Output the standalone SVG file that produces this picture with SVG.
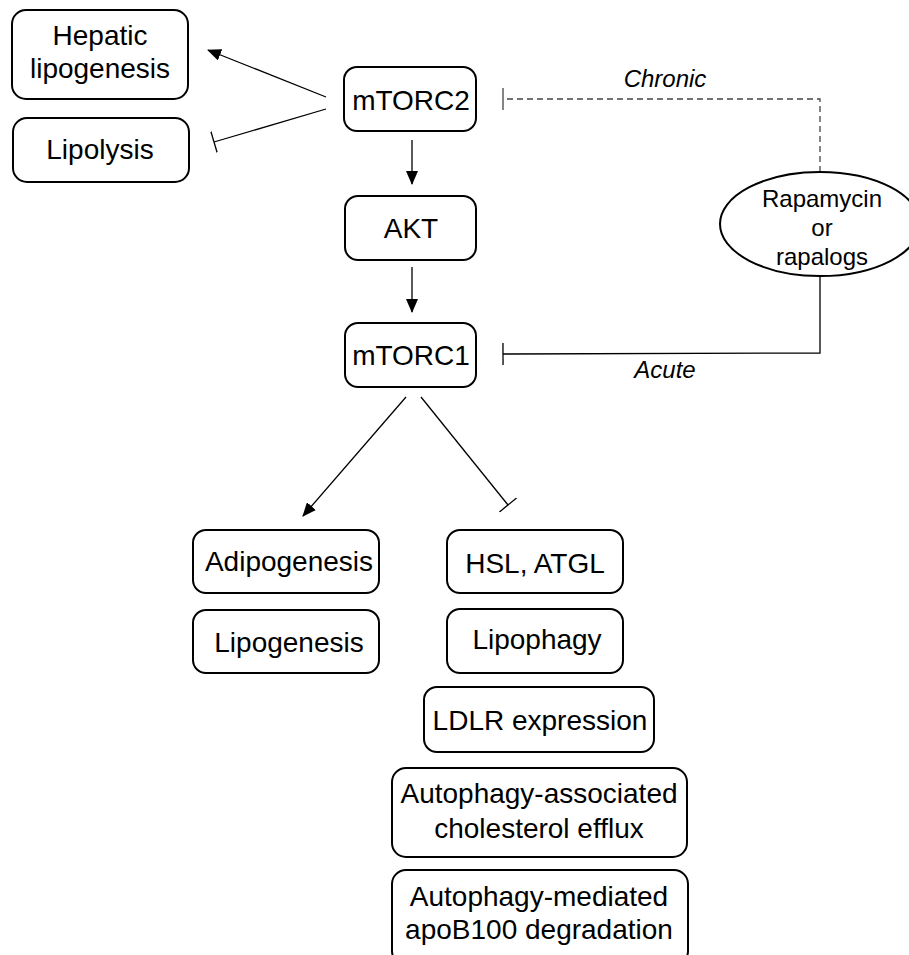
<svg xmlns="http://www.w3.org/2000/svg" width="909" height="955" viewBox="0 0 909 955">
<style>
.box{fill:#fff;stroke:#000;stroke-width:2}
.t{font-family:"Liberation Sans",Arial,sans-serif;font-size:28px;fill:#000;text-anchor:middle}
.s{font-family:"Liberation Sans",Arial,sans-serif;font-size:24px;fill:#000;text-anchor:middle}
.i{font-family:"Liberation Sans",Arial,sans-serif;font-size:24px;font-style:italic;fill:#000;text-anchor:middle}
.c{fill:none;stroke:#000;stroke-width:1.3}
.d{fill:none;stroke:#444;stroke-width:1.3;stroke-dasharray:6,4}
</style>
<defs>
<marker id="arr" markerUnits="userSpaceOnUse" markerWidth="14" markerHeight="12" refX="13" refY="6" orient="auto" viewBox="0 0 14 12">
<path d="M0,0 L14,6 L0,12 z" fill="#000"/>
</marker>
<marker id="bar" markerUnits="userSpaceOnUse" markerWidth="4" markerHeight="22" refX="2" refY="11" orient="auto" viewBox="0 0 4 22">
<line x1="2" y1="0" x2="2" y2="22" stroke="#000" stroke-width="1.3"/>
</marker>
<marker id="barg" markerUnits="userSpaceOnUse" markerWidth="4" markerHeight="22" refX="2" refY="11" orient="auto" viewBox="0 0 4 22">
<line x1="2" y1="0" x2="2" y2="22" stroke="#444" stroke-width="1.3"/>
</marker>
</defs>
<g id="connectors">
<line class="c" x1="326" y1="97" x2="208" y2="50" marker-end="url(#arr)"/>
<line class="c" x1="326" y1="109" x2="214" y2="142" marker-end="url(#bar)"/>
<line class="c" x1="412" y1="140" x2="412" y2="184" marker-end="url(#arr)"/>
<line class="c" x1="412" y1="267" x2="412" y2="312" marker-end="url(#arr)"/>
<line class="c" x1="406" y1="397" x2="303" y2="516" marker-end="url(#arr)"/>
<line class="c" x1="421" y1="397" x2="508" y2="505" marker-end="url(#bar)"/>
<polyline class="d" points="820,172 820,99 503,99" marker-end="url(#barg)"/>
<polyline class="c" points="820,276 820,353 503,354" marker-end="url(#bar)"/>
<text class="i" x="665" y="87">Chronic</text>
<text class="i" x="665" y="378">Acute</text>
</g>
<g id="hepatic">
<rect class="box" x="12" y="10" width="176" height="89" rx="14"/>
<text class="t" x="100" y="45">Hepatic</text>
<text class="t" x="100" y="78">lipogenesis</text>
</g>
<g id="lipolysis">
<rect class="box" x="13" y="118" width="176" height="64" rx="14"/>
<text class="t" x="100" y="159">Lipolysis</text>
</g>
<g id="mtorc2">
<rect class="box" x="344" y="67" width="132" height="64" rx="13"/>
<text class="t" x="411" y="110">mTORC2</text>
</g>
<g id="akt">
<rect class="box" x="345" y="196" width="131" height="64" rx="13"/>
<text class="t" x="411" y="238">AKT</text>
</g>
<g id="mtorc1">
<rect class="box" x="345" y="323" width="131" height="64" rx="13"/>
<text class="t" x="411" y="365">mTORC1</text>
</g>
<g id="rapamycin">
<ellipse cx="820" cy="224" rx="100" ry="52" fill="#fff" stroke="#000" stroke-width="2"/>
<text class="s" x="822" y="207">Rapamycin</text>
<text class="s" x="822" y="236">or</text>
<text class="s" x="822" y="265">rapalogs</text>
</g>
<g id="adipogenesis">
<rect class="box" x="193" y="530" width="186" height="63" rx="13"/>
<text class="t" x="289" y="571">Adipogenesis</text>
</g>
<g id="lipogenesis">
<rect class="box" x="193" y="610" width="186" height="63" rx="13"/>
<text class="t" x="289" y="652">Lipogenesis</text>
</g>
<g id="hsl">
<rect class="box" x="447" y="530" width="176" height="63" rx="13"/>
<text class="t" x="535" y="573">HSL, ATGL</text>
</g>
<g id="lipophagy">
<rect class="box" x="447" y="609" width="176" height="64" rx="13"/>
<text class="t" x="537" y="649">Lipophagy</text>
</g>
<g id="ldlr">
<rect class="box" x="424" y="687" width="230" height="65" rx="13"/>
<text class="t" x="540" y="730">LDLR expression</text>
</g>
<g id="efflux">
<rect class="box" x="392" y="768" width="295" height="89" rx="14"/>
<text class="t" x="539" y="803">Autophagy-associated</text>
<text class="t" x="539" y="838">cholesterol efflux</text>
</g>
<g id="apob">
<rect class="box" x="392" y="870" width="296" height="95" rx="14"/>
<text class="t" x="539" y="906">Autophagy-mediated</text>
<text class="t" x="539" y="939">apoB100 degradation</text>
</g>
</svg>
